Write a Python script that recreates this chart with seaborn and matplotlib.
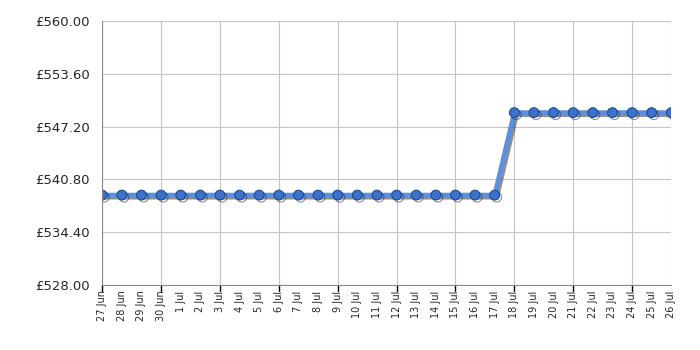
import matplotlib
matplotlib.use("Agg")
import matplotlib.pyplot as plt
import matplotlib.patheffects as pe
import seaborn as sns
import pandas as pd
import numpy as np

dates = ["27 Jun", "28 Jun", "29 Jun", "30 Jun", "1 Jul", "2 Jul", "3 Jul", "4 Jul",
         "5 Jul", "6 Jul", "7 Jul", "8 Jul", "9 Jul", "10 Jul", "11 Jul", "12 Jul",
         "13 Jul", "14 Jul", "15 Jul", "16 Jul", "17 Jul", "18 Jul", "19 Jul", "20 Jul",
         "21 Jul", "22 Jul", "23 Jul", "24 Jul", "25 Jul", "26 Jul"]
prices = [538.89] * 21 + [548.89] * 9
y_ticks = [528.00, 534.40, 540.80, 547.20, 553.60, 560.00]

df = pd.DataFrame({"idx": np.arange(len(dates)), "price": prices})

sns.set_style("white")
fig = plt.figure(figsize=(7, 3.5), dpi=100)
ax = fig.add_axes([0.146, 0.186, 0.813, 0.754])

sns.lineplot(data=df, x="idx", y="price", ax=ax, color="#5a90e0", linewidth=3.4,
             marker="o", markersize=7, markerfacecolor="#3c72cc",
             markeredgecolor="#1f4a90", markeredgewidth=0.8,
             path_effects=[pe.SimpleLineShadow(offset=(1.5, -1.5), shadow_color="#333333", alpha=0.55),
                           pe.Normal()])

ax.set_xlim(0, len(dates) - 1)
ax.set_ylim(y_ticks[0], y_ticks[-1])
ax.set_yticks(y_ticks)
ax.set_yticklabels([f"£{v:.2f}" for v in y_ticks], fontsize=9.5)
ax.set_xticks(range(len(dates)))
ax.set_xticklabels(dates, rotation=90, fontsize=7)
ax.set_xlabel("")
ax.set_ylabel("")

# grid on every third day
for i in range(0, len(dates), 3):
    ax.axvline(i, color="#c4c4c4", linewidth=0.8, zorder=0)
ax.axvline(len(dates) - 1, color="#c4c4c4", linewidth=0.8, zorder=0)
for v in y_ticks:
    ax.axhline(v, color="#c4c4c4", linewidth=0.8, zorder=0)

ax.tick_params(axis="y", length=6, width=1, color="black", pad=3)
ax.tick_params(axis="x", length=0, pad=4)
for i in range(0, len(dates), 3):
    ax.plot([i, i], [0, -0.025], transform=ax.get_xaxis_transform(), color="black",
            linewidth=1, clip_on=False)

for s in ["top", "right"]:
    ax.spines[s].set_visible(False)
ax.spines["left"].set_color("#8a8a8a")
ax.spines["bottom"].set_color("#8a8a8a")

fig.savefig("out.png", dpi=100)
